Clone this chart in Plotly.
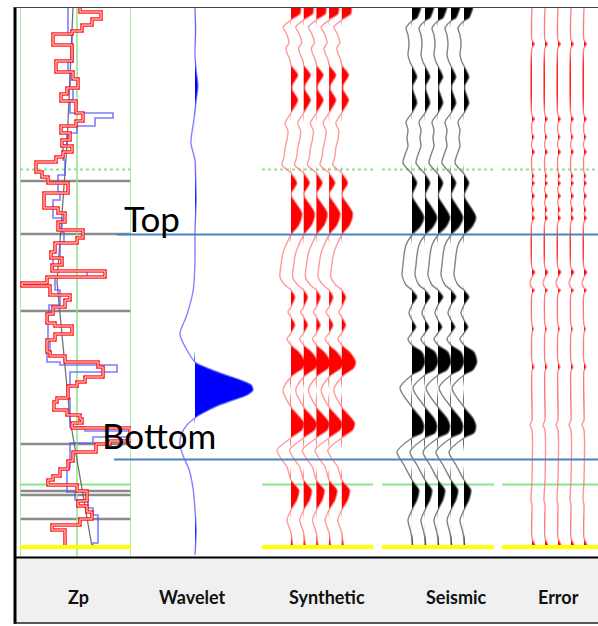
import numpy as np
import plotly.graph_objects as go

W, H = 598, 626

# ---------------- data ----------------
# time axis (ms, display window 8..557)
T_TOP, T_BOT, T_END = 8, 557, 547

# Zp track: blocked impedance (red), well log (blue), low-frequency model (grey)
RED_TOPS = [8, 12, 19, 25, 31, 34, 45, 61, 72, 79, 88, 94, 101, 113, 121, 126, 133, 140, 146, 152,
            157, 162, 172, 177, 183, 193, 208, 213, 222, 230, 238, 243, 252, 258, 265, 271, 277, 283, 286, 295,
            300, 307, 314, 323, 326, 334, 340, 352, 356, 362, 367, 377, 382, 386, 398, 402, 410, 415, 419, 423,
            428, 441, 444, 452, 461, 469, 476, 480, 485, 491, 501, 506, 512, 519, 525, 530]
RED_ZP = [8000, 10100, 9200, 8200, 7200, 5300, 7200, 5600, 7300, 7800, 6700, 6100, 7600, 8300, 7600, 6100, 7000, 6200, 7200, 6300,
          5600, 3600, 4200, 4800, 6800, 4400, 5800, 6500, 5800, 8300, 7700, 5500, 5100, 6200, 5200, 10500, 4700, 2200, 5000, 7000,
          6500, 5300, 4700, 5500, 7200, 5500, 4700, 5000, 6500, 9800, 10300, 8500, 7700, 6800, 5700, 5400, 6700, 8000, 8200, 7200,
          13000, 11000, 9600, 7300, 6800, 6000, 5300, 4800, 7700, 8700, 7800, 8700, 9200, 8000, 5200, 6500]
BLUE_TOPS = [8, 35, 45, 62, 72, 88, 100, 113, 118, 126, 133, 145, 160, 175, 192, 200, 218, 232, 242, 258,
             271, 277, 290, 305, 313, 340, 353, 362, 365, 372, 385, 398, 427, 431, 437, 443, 468, 492, 500, 508,
             515, 543]
BLUE_ZP = [6800, 7200, 7300, 6800, 7000, 7300, 7000, 11300, 9500, 7700, 6700, 6300, 6500, 5800, 6000, 5300, 6200, 6400, 6000, 5300,
           8700, 5500, 6000, 4900, 4800, 5000, 4700, 6000, 11700, 7000, 6800, 7000, 8500, 13000, 9300, 7000, 6700, 7500, 8800, 9300,
           9800, 9300]
TREND_T = [8, 145, 282, 419, 547]
TREND_ZP = [7300, 6700, 5700, 7000, 9200]
ZP_GRID = [2000, 7700, 13100]

# Wavelet (normalised amplitude)
WAV_T = [8, 30, 55, 70, 86, 105, 120, 143, 160, 175, 200, 230, 260, 290, 315, 334, 350, 362,
         368, 374, 380, 385, 390, 395, 400, 406, 412, 418, 425, 435, 445, 455, 470, 490, 510, 530, 555]
WAV_A = [0.0, 0.01, 0.0, 0.02, 0.05, 0.01, -0.02, -0.07, 0.0, 0.01, 0.02, 0.0, 0.0, -0.03, -0.14, -0.26, -0.14, 0.0,
         0.21, 0.48, 0.78, 0.97, 1.0, 0.9, 0.66, 0.38, 0.17, 0.0, -0.14, -0.24, -0.26, -0.21, -0.1, -0.03, 0.0, 0.02, 0.0]

# Synthetic trace
SYN_T = [8, 14, 20, 27, 33, 38, 43, 48, 53, 60, 65, 75, 85, 90, 100, 113, 123, 131, 140, 148,
         157, 165, 173, 183, 193, 197, 213, 225, 235, 245, 253, 265, 277, 285, 290, 297, 307, 312, 317, 325,
         333, 339, 345, 352, 362, 368, 377, 390, 407, 415, 423, 430, 438, 450, 460, 467, 480, 490, 500, 510,
         520, 527, 533, 540, 547]
SYN_A = [10, 9, 0, -8, -5, -3, -2, -5, -4, -1, 0, 7, 1.5, 1.5, 7, 0, -6, -3, -4, -6,
         -7, -9, 0, 6, 0.5, 1, 11, 8, 0, -5, -8, -10, -11, -6, 0, 4, 0, -3, 0, 4,
         0, -4, 0, 8, 14, 12, 0, -8, 0, 7, 13, 11, 0, -14, -9, -4, 0, 8, 6, 0,
         -4, -2, 0, 1, 2]

# Seismic trace
SEI_T = [8, 18, 21, 28, 35, 45, 55, 62, 66, 77, 85, 90, 103, 113, 122, 130, 138, 146, 152, 163,
         174, 183, 194, 198, 217, 227, 235, 245, 255, 265, 275, 285, 290, 297, 305, 313, 320, 327, 333, 339,
         345, 352, 362, 370, 375, 388, 407, 418, 426, 433, 438, 452, 465, 480, 490, 500, 510, 520, 533, 547]
SEI_A = [9, 5, 0, -6, -4, -3, -4, -2, 0, 5, 1, 1, 5, 0, -6, -4, -5, -4, -6, -9,
         0, 5, 0.5, 1, 12, 8, 0, -6, -8, -9, -10, -6, 0, 5, 0, -3, 0, 4, 0, -4,
         0, 10, 13, 9, 0, -12, 0, 9, 12, 10, 0, -15, -8, 0, 7, 5, 0, -4, -1, 1]

# Error trace
ERR_T = [8, 40, 44, 48, 115, 119, 123, 133, 137, 141, 148, 152, 156, 172, 176, 180, 183, 187, 192, 196,
         200, 205, 210, 214, 218, 222, 268, 272, 277, 283, 288, 290, 294, 325, 329, 333, 362, 367, 371, 420,
         425, 430, 480, 500, 505, 538, 545, 547]
ERR_A = [0, 0, 2.5, 0, 0, 2.5, 0, 0, 2, 0, 0, 2.5, 0, 0, 2, 0, 2.5, 0, 0, 2.5,
         0, 0, 2, 0, 2.5, 0, 0, 3, 0, -2, 0, 2.5, 0, 0, 1.5, 0, 0, 2, 0, 0,
         -2, 0, 0, -1, 0, 0, 3, 2]

N_TRACES = [1, 2, 3, 4, 5]
HORIZON_TOP, HORIZON_BOTTOM = 234.5, 459.5
GREY_MARKERS = [181, 234, 311, 444, 491, 495, 519]
GREEN_DOT_T, GREEN_T, YELLOW_T = 169.5, 484.5, 547
TRACK_LABELS = ["Zp", "Wavelet", "Synthetic", "Seismic", "Error"]

# ---------------- figure ----------------
fig = go.Figure()

def px(x):
    return x / W

def py(y):
    return 1 - y / H

ydom = [py(T_BOT), py(T_TOP)]

# Zp track
fig.add_trace(go.Scatter(x=TREND_ZP, y=TREND_T, mode="lines", line=dict(color="rgba(90,90,90,0.85)", width=1.3),
                         xaxis="x", yaxis="y", hoverinfo="skip"))
bx = BLUE_ZP + [BLUE_ZP[-1]]
by = BLUE_TOPS + [T_END]
fig.add_trace(go.Scatter(x=bx, y=by, mode="lines", line=dict(color="rgba(80,80,255,0.75)", width=1.6, shape="vh"),
                         xaxis="x", yaxis="y", hoverinfo="skip"))
rx = RED_ZP + [RED_ZP[-1]]
ry = RED_TOPS + [T_END]
fig.add_trace(go.Scatter(x=rx, y=ry, mode="lines", line=dict(color="rgba(255,20,20,0.95)", width=3.6, shape="vh"),
                         xaxis="x", yaxis="y", hoverinfo="skip"))
fig.add_trace(go.Scatter(x=rx, y=ry, mode="lines", line=dict(color="rgba(255,225,225,1)", width=1.0, shape="vh"),
                         xaxis="x", yaxis="y", hoverinfo="skip"))


def wiggle(axis, t, a, pos, gain, line_color, fill_color, lw=1.4):
    t = np.asarray(t, float)
    a = np.asarray(a, float)
    xl = pos + a * gain
    xf = pos + np.clip(a, 0, None) * gain
    poly = np.concatenate([t, t[::-1]])
    polx = np.concatenate([xf, np.full(len(t), float(pos))])
    fig.add_trace(go.Scatter(x=polx, y=poly, mode="lines", fill="toself", fillcolor=fill_color,
                             line=dict(width=0, shape="spline", smoothing=0.7), xaxis=axis, yaxis="y", hoverinfo="skip"))
    fig.add_trace(go.Scatter(x=xl, y=t, mode="lines", line=dict(color=line_color, width=lw, shape="spline", smoothing=0.7),
                             xaxis=axis, yaxis="y", hoverinfo="skip"))

# wavelet
wiggle("x2", WAV_T, WAV_A, 0.0, 1.0, "rgba(90,90,255,0.75)", "#0000ff", lw=1.4)

for n in N_TRACES:
    wiggle("x3", SYN_T, SYN_A, n, 1 / 12.7, "rgba(255,120,120,0.75)", "#ff0000")
for n in N_TRACES:
    wiggle("x4", SEI_T, SEI_A, n, 1 / 13.0, "rgba(100,100,100,0.8)", "#000000")
for n in N_TRACES:
    wiggle("x5", ERR_T, ERR_A, n, 1 / 13.0, "rgba(255,120,120,0.8)", "#ff0000")

ax_common = dict(visible=False, showgrid=False, zeroline=False, fixedrange=True)
fig.update_layout(
    width=W, height=H, margin=dict(l=0, r=0, t=0, b=0),
    paper_bgcolor="white", plot_bgcolor="rgba(0,0,0,0)", showlegend=False,
    yaxis=dict(domain=ydom, range=[T_BOT, T_TOP], **ax_common),
    xaxis=dict(domain=[px(20), px(131)], range=[2000, 13100], anchor="y", **ax_common),
    xaxis2=dict(domain=[px(140), px(260)], range=[-55 / 58, 65 / 58], anchor="y", **ax_common),
    xaxis3=dict(domain=[px(262), px(373)], range=[1 - 29 / 12.7, 1 + 82 / 12.7], anchor="y", **ax_common),
    xaxis4=dict(domain=[px(382), px(493)], range=[1 - 30 / 13.0, 1 + 81 / 13.0], anchor="y", **ax_common),
    xaxis5=dict(domain=[px(502), 1.0], range=[1 - 30 / 13.0, 1 + 66 / 13.0], anchor="y", **ax_common),
)

shapes = []
# footer and frame
shapes.append(dict(type="rect", xref="paper", yref="paper", x0=px(14), x1=1, y0=py(623), y1=py(558),
                   fillcolor="#f0f0f0", line=dict(width=0), layer="below"))
shapes.append(dict(type="line", xref="paper", yref="paper", x0=px(15), x1=px(15), y0=py(624), y1=py(7),
                   line=dict(color="black", width=3)))
shapes.append(dict(type="line", xref="paper", yref="paper", x0=px(14), x1=1, y0=py(7.5), y1=py(7.5),
                   line=dict(color="#444444", width=1)))
shapes.append(dict(type="line", xref="paper", yref="paper", x0=px(14), x1=1, y0=py(557.5), y1=py(557.5),
                   line=dict(color="black", width=2)))
shapes.append(dict(type="line", xref="paper", yref="paper", x0=px(14), x1=1, y0=py(623), y1=py(623),
                   line=dict(color="#222222", width=1.5)))

# Zp grid lines
for g in ZP_GRID:
    shapes.append(dict(type="line", xref="x", yref="y", x0=g, x1=g, y0=T_TOP, y1=T_BOT,
                       line=dict(color="#8ce68c", width=1.5), layer="below"))
for gm in GREY_MARKERS:
    shapes.append(dict(type="line", xref="paper", yref="y", x0=px(20), x1=px(131), y0=gm, y1=gm,
                       line=dict(color="rgba(110,110,110,0.8)", width=2.5), layer="below"))

segs = [(20, 131), (262, 373), (382, 494), (502, 598)]
for a, b in segs:
    shapes.append(dict(type="line", xref="paper", yref="y", x0=px(a), x1=px(b), y0=GREEN_DOT_T, y1=GREEN_DOT_T,
                       line=dict(color="#8ce68c", width=2, dash="dot"), layer="below"))
    shapes.append(dict(type="line", xref="paper", yref="y", x0=px(a), x1=px(b), y0=GREEN_T, y1=GREEN_T,
                       line=dict(color="#8ce68c", width=2), layer="below"))
    shapes.append(dict(type="line", xref="paper", yref="y", x0=px(a), x1=px(b), y0=YELLOW_T, y1=YELLOW_T,
                       line=dict(color="#ffff00", width=4)))

shapes.append(dict(type="line", xref="paper", yref="y", x0=px(117), x1=1, y0=HORIZON_TOP, y1=HORIZON_TOP,
                   line=dict(color="#4f81bd", width=2)))
shapes.append(dict(type="line", xref="paper", yref="y", x0=px(114), x1=1, y0=HORIZON_BOTTOM, y1=HORIZON_BOTTOM,
                   line=dict(color="#4f81bd", width=2)))
fig.update_layout(shapes=shapes)

annots = []
big_font = dict(family="Lato, sans-serif", size=35, color="black")
annots.append(dict(text="Top", xref="paper", yref="paper", x=px(122), y=py(218), xanchor="left", yanchor="middle",
                   showarrow=False, font=big_font))
annots.append(dict(text="Bottom", xref="paper", yref="paper", x=px(100), y=py(435), xanchor="left", yanchor="middle",
                   showarrow=False, font=big_font))
label_x = [78, 192, 327, 456, 558]
for lab, lx in zip(TRACK_LABELS, label_x):
    annots.append(dict(text="<b>" + lab + "</b>", xref="paper", yref="paper", x=px(lx), y=py(597),
                       xanchor="center", yanchor="middle", showarrow=False,
                       font=dict(family="Lato, sans-serif", size=18, color="#111111")))
fig.update_layout(annotations=annots)

fig.write_html("out.html")
